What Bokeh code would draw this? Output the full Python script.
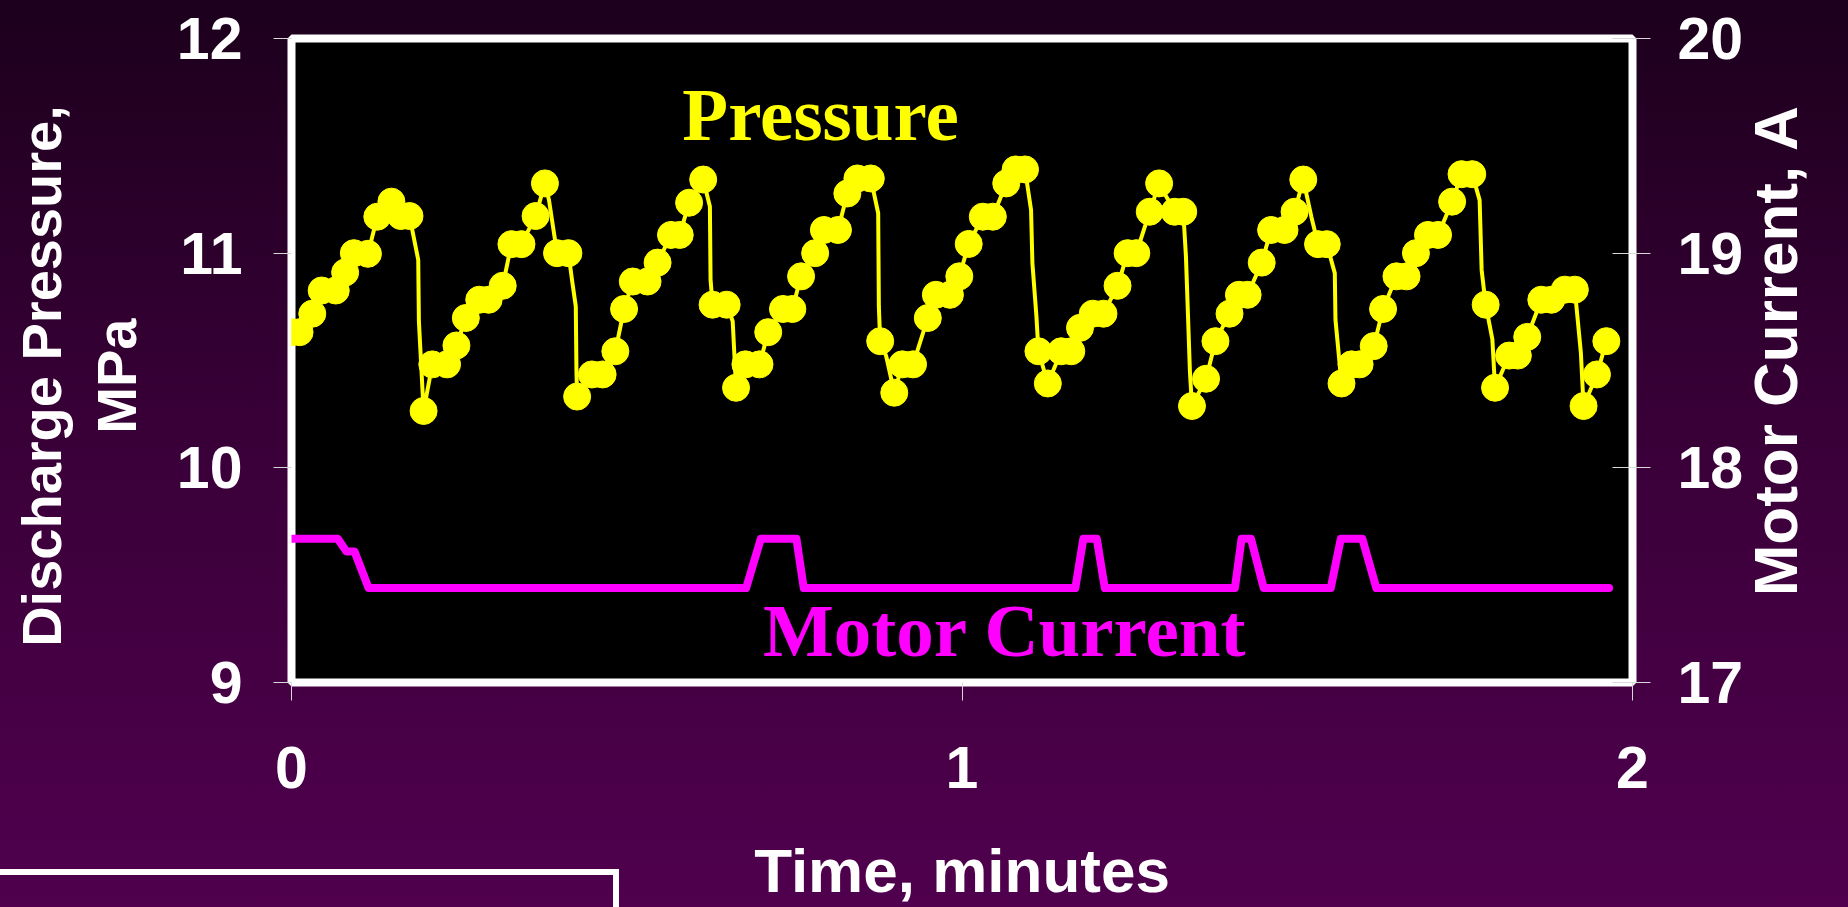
import math
from bokeh.plotting import figure
from bokeh.models import Range1d, LinearAxis, Label, FixedTicker
from bokeh.embed import file_html
from bokeh.resources import INLINE

# ---------------- data ----------------
# Discharge pressure samples (markers): time in minutes, pressure in MPa
pressure_t = [0.000, 0.012, 0.031, 0.045, 0.066, 0.080, 0.093, 0.114, 0.128, 0.149,
              0.163, 0.176, 0.197, 0.210, 0.232, 0.246, 0.260, 0.280, 0.294, 0.315,
              0.328, 0.343, 0.364, 0.378, 0.396, 0.413, 0.426, 0.448, 0.464, 0.483,
              0.496, 0.509, 0.531, 0.546, 0.566, 0.579, 0.593, 0.614, 0.628, 0.649,
              0.663, 0.677, 0.698, 0.711, 0.733, 0.747, 0.760, 0.781, 0.794, 0.815,
              0.829, 0.844, 0.864, 0.878, 0.899, 0.911, 0.927, 0.949, 0.961, 0.982,
              0.996, 1.010, 1.031, 1.046, 1.066, 1.080, 1.094, 1.114, 1.128, 1.148,
              1.163, 1.176, 1.195, 1.211, 1.232, 1.247, 1.260, 1.280, 1.294, 1.317,
              1.330, 1.343, 1.364, 1.378, 1.399, 1.413, 1.426, 1.447, 1.461, 1.481,
              1.496, 1.509, 1.531, 1.544, 1.566, 1.581, 1.593, 1.614, 1.628, 1.648,
              1.663, 1.677, 1.695, 1.710, 1.731, 1.745, 1.761, 1.781, 1.795, 1.816,
              1.829, 1.843, 1.864, 1.879, 1.899, 1.914, 1.927, 1.947, 1.961]
pressure_mpa = [10.632, 10.632, 10.718, 10.826, 10.826, 10.910, 11.000, 10.997, 11.170, 11.240,
                11.173, 11.173, 10.265, 10.482, 10.482, 10.570, 10.698, 10.783, 10.783, 10.848,
                11.042, 11.042, 11.173, 11.325, 11.000, 11.000, 10.332, 10.435, 10.435, 10.543,
                10.740, 10.868, 10.868, 10.956, 11.085, 11.085, 11.235, 11.343, 10.760, 10.760,
                10.373, 10.482, 10.482, 10.632, 10.740, 10.740, 10.892, 11.000, 11.108, 11.108,
                11.278, 11.348, 11.348, 10.590, 10.350, 10.482, 10.482, 10.698, 10.806, 10.806,
                10.892, 11.043, 11.170, 11.170, 11.325, 11.390, 11.390, 10.543, 10.393, 10.543,
                10.543, 10.652, 10.718, 10.718, 10.848, 11.000, 11.000, 11.193, 11.325, 11.193,
                11.193, 10.288, 10.415, 10.590, 10.718, 10.806, 10.806, 10.956, 11.108, 11.108,
                11.193, 11.343, 11.042, 11.042, 10.393, 10.482, 10.482, 10.567, 10.740, 10.892,
                10.892, 11.000, 11.085, 11.085, 11.240, 11.368, 11.368, 10.760, 10.373, 10.523,
                10.523, 10.610, 10.783, 10.783, 10.830, 10.830, 10.288, 10.435, 10.590]

# Extra vertices of the continuous pressure trace (between samples, during drops)
trace_extra_t = [0.189, 0.190, 0.384, 0.419, 0.424, 0.425, 0.624, 0.625, 0.658,
                 0.875, 0.876, 0.887, 1.103, 1.105, 1.111, 1.334, 1.340, 1.521,
                 1.556, 1.557, 1.772, 1.775, 1.791, 1.923]
trace_extra_mpa = [10.969, 10.683, 11.248, 10.861, 10.752, 10.443, 11.217, 10.876, 10.683,
                   11.186, 10.752, 10.520, 11.201, 10.954, 10.706, 10.984, 10.443, 11.170,
                   10.907, 10.690, 11.247, 10.922, 10.598, 10.536]

# Motor current trace: time in minutes, current in A
current_t = [0.000, 0.069, 0.082, 0.094, 0.115, 0.678, 0.700, 0.753, 0.764, 1.169, 1.181,
             1.201, 1.213, 1.407, 1.417, 1.431, 1.450, 1.550, 1.565, 1.597, 1.618, 1.965]
current_a = [17.67, 17.67, 17.61, 17.61, 17.44, 17.44, 17.67, 17.67, 17.44, 17.44, 17.67,
             17.67, 17.44, 17.44, 17.67, 17.67, 17.44, 17.44, 17.67, 17.67, 17.44, 17.44]

x_ticks = [0, 1, 2]
pressure_ticks = [9, 10, 11, 12]
current_ticks = [17, 18, 19, 20]

# merged pressure trace (samples + extra vertices), ordered by time
_trace = sorted(list(zip(pressure_t, pressure_mpa)) + list(zip(trace_extra_t, trace_extra_mpa)),
                key=lambda v: v[0])
trace_t = [v[0] for v in _trace]
trace_mpa = [v[1] for v in _trace]

NB = "\u00a0"

# ---------------- figure ----------------
W, H = 1848, 907
p = figure(width=W, height=H, output_backend="svg", toolbar_location=None,
           x_range=Range1d(0, 2), y_range=Range1d(9, 12),
           min_border_left=291, min_border_right=216, min_border_top=38, min_border_bottom=223)
p.extra_y_ranges = {"current": Range1d(17, 20)}

p.background_fill_color = "black"
p.border_fill_color = "#2e002e"
p.border_fill_alpha = 0.0
# slide background: purple gradient plus the white outlined box at lower left
p.styles = {"background": (
    "linear-gradient(#ffffff, #ffffff) 0px 869px / 619px 6px no-repeat, "
    "linear-gradient(#ffffff, #ffffff) 613px 869px / 6px 60px no-repeat, "
    "linear-gradient(to bottom, #1c001c 0%, #3a0039 50%, #50004e 100%)")}
p.outline_line_color = "white"
p.outline_line_width = 8
p.xgrid.visible = False
p.ygrid.visible = False

right_axis = LinearAxis(y_range_name="current")
p.add_layout(right_axis, "right")

p.xaxis.ticker = FixedTicker(ticks=x_ticks)
p.yaxis[0].ticker = FixedTicker(ticks=pressure_ticks)
right_axis.ticker = FixedTicker(ticks=current_ticks)

for ax in [p.xaxis[0], p.yaxis[0], right_axis]:
    ax.axis_line_color = None
    ax.major_tick_line_color = "#d8d8d8"
    ax.major_tick_line_width = 1
    ax.major_tick_out = 18
    ax.major_tick_in = 0
    ax.minor_tick_line_color = None
    ax.major_label_text_color = "white"
    ax.major_label_text_font = "Liberation Sans"
    ax.major_label_text_font_style = "bold"
    ax.major_label_text_font_size = "59px"
    ax.axis_label_text_color = "white"
    ax.axis_label_text_font = "Liberation Sans"
    ax.axis_label_text_font_style = "bold"

right_axis.major_tick_in = 20

p.yaxis[0].axis_label = "Discharge Pressure," + NB * 2 + "\nMPa" + NB * 2
p.yaxis[0].axis_label_text_font_size = "56px"
p.yaxis[0].axis_label_text_line_height = 1.19
p.yaxis[0].major_label_standoff = 31
p.yaxis[0].axis_label_standoff = 26

right_axis.major_label_standoff = 27
right_axis.axis_label = NB * 5 + "Motor Current, A"
right_axis.axis_label_text_font_size = "62px"
right_axis.axis_label_orientation = math.pi / 2
right_axis.axis_label_standoff = 29
if "axis_label_align" in right_axis.properties():
    right_axis.axis_label_align = "start"
if "axis_label_text_baseline" in right_axis.properties():
    right_axis.axis_label_text_baseline = "top"

p.xaxis[0].axis_label = "Time, minutes"
p.xaxis[0].axis_label_text_font_size = "62px"
p.xaxis[0].major_label_standoff = 46
p.xaxis[0].axis_label_standoff = 45

# pressure trace + samples
p.line(trace_t, trace_mpa, line_color="#ffff00", line_width=4, line_join="round")
p.scatter(pressure_t, pressure_mpa, marker="circle", size=27,
          fill_color="#ffff00", line_color="#ffff00")

# motor current
p.line(current_t, current_a, y_range_name="current", line_color="#ff00ff",
       line_width=8, line_join="round", line_cap="round")

p.add_layout(Label(x=0.789, y=11.644, text="Pressure", text_align="center",
                   text_baseline="middle", text_font="Liberation Serif",
                   text_font_style="bold", text_font_size="75px", text_color="#ffff00"))
p.add_layout(Label(x=1.064, y=9.240, text="Motor Current", text_align="center",
                   text_baseline="middle", text_font="Liberation Serif",
                   text_font_style="bold", text_font_size="75px", text_color="#ff00ff"))

open("out.html", "w").write(file_html(p, INLINE))
